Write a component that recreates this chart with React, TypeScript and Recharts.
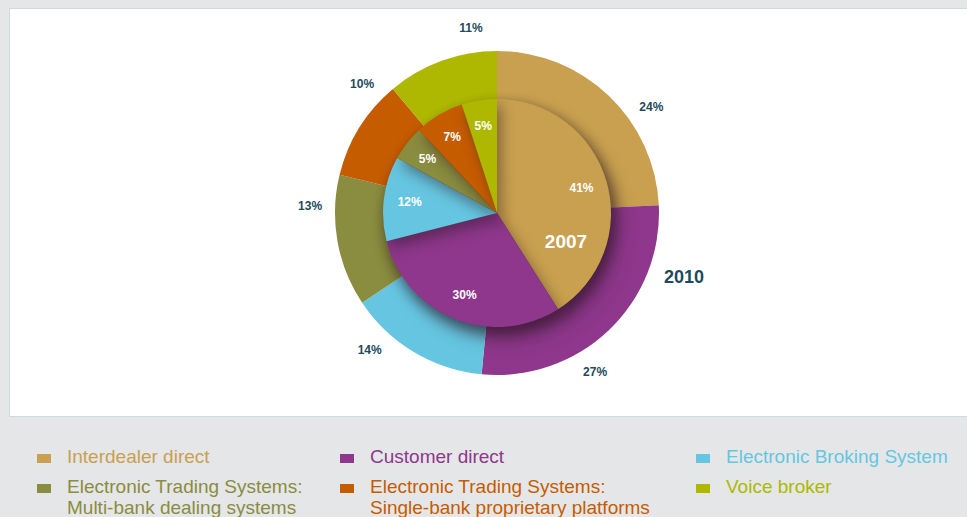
import { PieChart, Pie, Cell } from 'recharts'

// market segments (same order in both rings)
const segments = [
  'Interdealer direct',
  'Customer direct',
  'Electronic Broking System',
  'Electronic Trading Systems: Multi-bank dealing systems',
  'Electronic Trading Systems: Single-bank proprietary platforms',
  'Voice broker',
]
const share2007 = [41, 30, 12, 5, 7, 5]
const share2010 = [24, 27, 14, 13, 10, 11]

const colors = ['#c8a04f', '#8e378c', '#66c6e1', '#8a8c3f', '#c65c00', '#aeb800']

// legend layout: rows of [index, line1, line2?]
const legendRows: Array<Array<[number, string, string?]>> = [
  [[0, 'Interdealer direct'], [1, 'Customer direct'], [2, 'Electronic Broking System']],
  [[3, 'Electronic Trading Systems:', 'Multi-bank dealing systems'], [4, 'Electronic Trading Systems:', 'Single-bank proprietary platforms'], [5, 'Voice broker']],
]

const inner = segments.map((name, i) => ({ name, value: share2007[i] }))
const outer = segments.map((name, i) => ({ name, value: share2010[i] }))

const RAD = Math.PI / 180
const FONT = "'Liberation Sans Narrow', 'Liberation Sans', Arial, sans-serif"

function outerLabel(p: any) {
  const a = (p.midAngle - 12) * RAD
  const r = 187
  const x = p.cx + r * Math.cos(a)
  const y = p.cy - r * Math.sin(a)
  return (
    <text x={x} y={y} fill="#1d4a5c" fontSize={12} fontWeight="bold" fontFamily={FONT}
      textAnchor="middle" dominantBaseline="central">
      {`${p.value}%`}
    </text>
  )
}

function innerLabel(p: any) {
  const a = p.midAngle * RAD
  const r = 88
  const x = p.cx + r * Math.cos(a)
  const y = p.cy - r * Math.sin(a)
  return (
    <text x={x} y={y} fill="#ffffff" fontSize={12} fontWeight="bold" fontFamily={FONT}
      textAnchor="middle" dominantBaseline="central">
      {`${p.value}%`}
    </text>
  )
}

export default function App() {
  return (
    <div style={{ position: 'absolute', left: 0, top: 0, width: 967, height: 517, background: '#e5e6e8', overflow: 'hidden', fontFamily: FONT }}>
      <style>{`.inner-pie { filter: drop-shadow(4px 7px 7px rgba(40,20,30,0.45)); }`}</style>
      <div style={{ position: 'absolute', left: 9, top: 8, width: 970, height: 409, background: '#fff', border: '1px solid #c9dbe3', boxSizing: 'border-box' }} />
      <div style={{ position: 'absolute', left: 0, top: 0 }}>
        <PieChart width={967} height={420} margin={{ top: 0, right: 0, bottom: 0, left: 0 }}>
          <Pie data={outer} dataKey="value" cx={497} cy={213} outerRadius={162} innerRadius={0}
            startAngle={90} endAngle={-270} stroke="none" label={outerLabel} labelLine={false}
            isAnimationActive={false}>
            {outer.map((e, i) => <Cell key={`o-${i}`} fill={colors[i]} />)}
          </Pie>
          <Pie data={inner} dataKey="value" cx={497} cy={213} outerRadius={114} innerRadius={0}
            startAngle={90} endAngle={-270} stroke="none" label={innerLabel} labelLine={false}
            className="inner-pie" isAnimationActive={false}>
            {inner.map((e, i) => <Cell key={`i-${i}`} fill={colors[i]} />)}
          </Pie>
        </PieChart>
      </div>
      <div style={{ position: 'absolute', left: 566, top: 242, transform: 'translate(-50%, -50%)', color: '#fff', fontSize: 19, fontWeight: 'bold' }}>2007</div>
      <div style={{ position: 'absolute', left: 684, top: 277, transform: 'translate(-50%, -50%)', color: '#1d4a5c', fontSize: 18, fontWeight: 'bold' }}>2010</div>
      {legendRows.map((row, ri) =>
        row.map(([idx, l1, l2], ci) => (
          <div key={`${ri}-${ci}`} style={{ position: 'absolute', left: [37, 340, 696][ci], top: [446, 476][ri], display: 'flex', alignItems: 'flex-start' }}>
            <div style={{ width: 14, height: 9, background: colors[idx], marginTop: 8, marginRight: 16 }} />
            <div style={{ color: colors[idx], fontSize: 19, lineHeight: '21px' }}>
              <div>{l1}</div>
              {l2 && <div>{l2}</div>}
            </div>
          </div>
        ))
      )}
    </div>
  )
}
